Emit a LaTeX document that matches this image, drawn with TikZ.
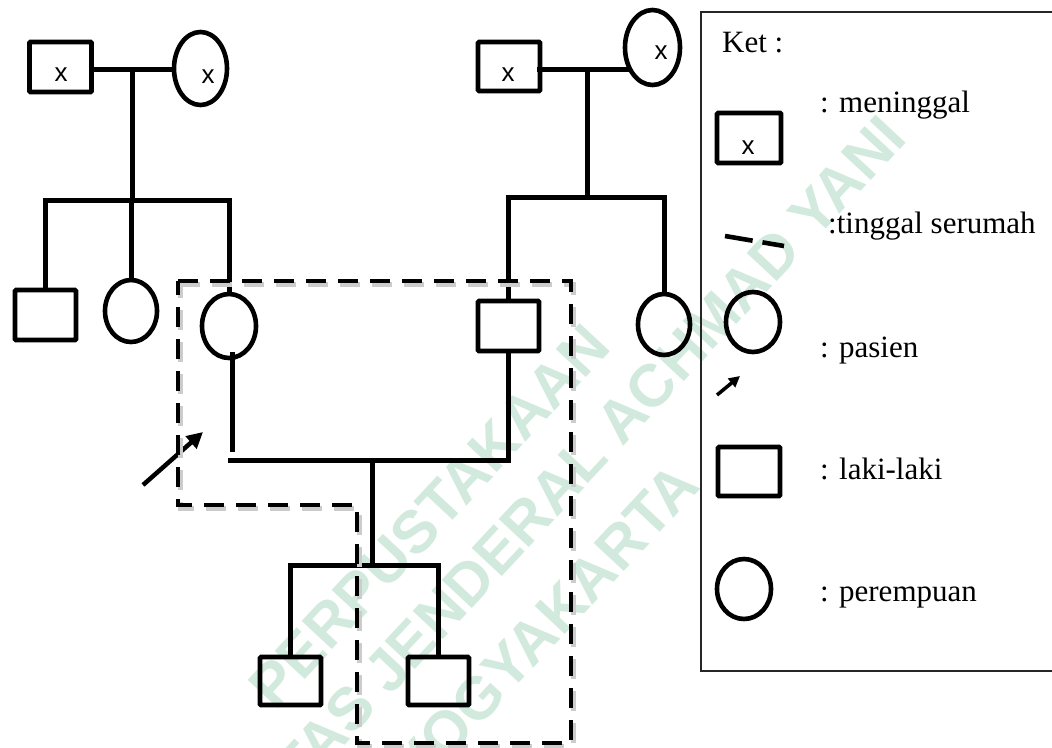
\documentclass[tikz,border=0pt]{standalone}
\usepackage{fontspec}
\setmainfont{Liberation Serif}
\newfontfamily\arialf{Liberation Sans}
\usetikzlibrary{shapes.geometric,arrows.meta}
\definecolor{wmgreen}{RGB}{210,234,221}
\begin{document}
\begin{tikzpicture}[x=1pt,y=-1pt,
  male/.style={draw, rectangle, line width=4.6pt, rounded corners=1pt, inner sep=0pt, minimum width=61pt, minimum height=49pt},
  female/.style={draw, ellipse, line width=4.6pt, inner sep=0pt, minimum width=53pt, minimum height=62pt},
  link/.style={line width=5pt},
  house/.style={line width=4.6pt, dash pattern=on 20pt off 12pt},
  houseshadow/.style={line width=5pt, black!20, dash pattern=on 20pt off 12pt},
  xmark/.style={inner sep=0pt, font=\arialf\fontsize{26}{26}\selectfont},
  legtext/.style={anchor=base west, inner sep=0pt, font=\fontsize{31}{31}\selectfont},
  wm/.style={rotate=47, text=wmgreen, inner sep=0pt, font=\arialf\bfseries\fontsize{60}{60}\selectfont}
]
\useasboundingbox (0,0) rectangle (1052,747);

% watermark
\node[wm] (wm1) at (429,516) {PERPUSTAKAAN};
\node[wm] (wm2) at (493,556) {UNIVERSITAS JENDERAL ACHMAD YANI};
\node[wm] (wm3) at (545,626) {YOGYAKARTA};

% generation 1
\node[male, minimum width=62pt, minimum height=50pt] (gf1) at (60.5,67) {};
\node[xmark] (gf1x) at (61,75) {x};
\node[female, minimum width=53pt, minimum height=73pt] (gm1) at (200.5,68.5) {};
\node[xmark] (gm1x) at (208,77) {x};
\node[male, minimum width=62pt, minimum height=49pt] (gf2) at (509,66.5) {};
\node[xmark] (gf2x) at (508,75) {x};
\node[female, minimum width=55pt, minimum height=75pt] (gm2) at (652.5,47.5) {};
\node[xmark] (gm2x) at (661,53) {x};

% generation 2
\node[male, minimum width=61pt, minimum height=50pt] (a1) at (45.5,315) {};
\node[female, minimum width=52pt, minimum height=62pt] (a2) at (131,311) {};
\node[female, minimum width=54pt, minimum height=64pt] (mom) at (229,326) {};
\node[male, minimum width=61pt, minimum height=50pt] (dad) at (508.5,326) {};
\node[female, minimum width=52pt, minimum height=61pt] (aunt) at (664,324.5) {};

% generation 3
\node[male, minimum width=61pt, minimum height=48pt] (c1) at (290.5,681) {};
\node[male, minimum width=61pt, minimum height=48pt] (c2) at (438.5,681) {};

% connectors, left family
\coordinate (m1) at (132,69);
\coordinate (s1) at (132,200);
\draw[link] (gf1.east |- m1) -- (gm1.west |- m1);
\draw[link] (m1) -- (s1);
\draw[link] (a1.north) |- (s1) -| (mom.north);
\draw[link] (a2.north) -- (a2.north |- s1);

% connectors, right family
\coordinate (m2) at (587,69);
\coordinate (s2) at (587,197);
\path (gm2.center) ++(-24,21.5) coordinate (gm2l);
\draw[link] ([xshift=-5pt]gf2.east |- m2) -- (gm2l);
\draw[link] (m2) -- (s2);
\draw[link] (dad.north) |- (s2) -| (aunt.north);

% marriage and children
\coordinate (barL) at (228,460);
\coordinate (mb) at (232,452);
\coordinate (cb) at (372,460);
\coordinate (sb) at (372,565);
\draw[link] ([xshift=3pt,yshift=8pt]mom.south) -- (mb);
\draw[link] (dad.south) |- (barL);
\draw[link] (cb) -- (sb);
\draw[link] (c1.north) |- (sb) -| (c2.north);

% patient arrow
\coordinate (pa0) at (143,485);
\coordinate (pa1) at (203,432);
\draw[line width=4.5pt, -{Triangle[length=16pt,width=16pt]}] (pa0) -- (pa1);

% household (dashed)
\draw[houseshadow, shift={(2pt,-3pt)}] (178,281) -- (571,281) -- (571,743) -- (357,743) -- (357,505) -- (178,505) -- cycle;
\draw[house] (178,281) -- (571,281) -- (571,743) -- (357,743) -- (357,505) -- (178,505) -- cycle;

% legend
\draw[line width=1.5pt, black!85] (1052,12) -- (701,12) -- (701,671) -- (1052,671);
\node[legtext] (ket) at (722,52) {Ket :};
\node[male, minimum width=64pt, minimum height=50pt] (lx) at (749,138) {};
\node[xmark] (lxx) at (748,148) {x};
\node[legtext] (tmen) at (820,112) {: meninggal};
\coordinate (ld0) at (725,236);
\coordinate (ld1) at (784,246);
\draw[line width=4.6pt, dash pattern=on 28pt off 10pt] (ld0) -- (ld1);
\node[legtext] (tser) at (828,233) {:tinggal serumah};
\node[female, minimum width=54pt, minimum height=60pt] (lp) at (753,322) {};
\coordinate (la0) at (717,395);
\coordinate (la1) at (740,376);
\draw[line width=3.5pt, -{Triangle[length=11pt,width=11pt]}] (la0) -- (la1);
\node[legtext] (tpas) at (820,357) {: pasien};
\node[male, minimum width=62pt, minimum height=49pt] (lm) at (749,471.5) {};
\node[legtext] (tlak) at (820,479) {: laki-laki};
\node[female, minimum width=54pt, minimum height=60pt] (lf) at (744,589) {};
\node[legtext] (tper) at (820,601) {: perempuan};
\end{tikzpicture}
\end{document}
